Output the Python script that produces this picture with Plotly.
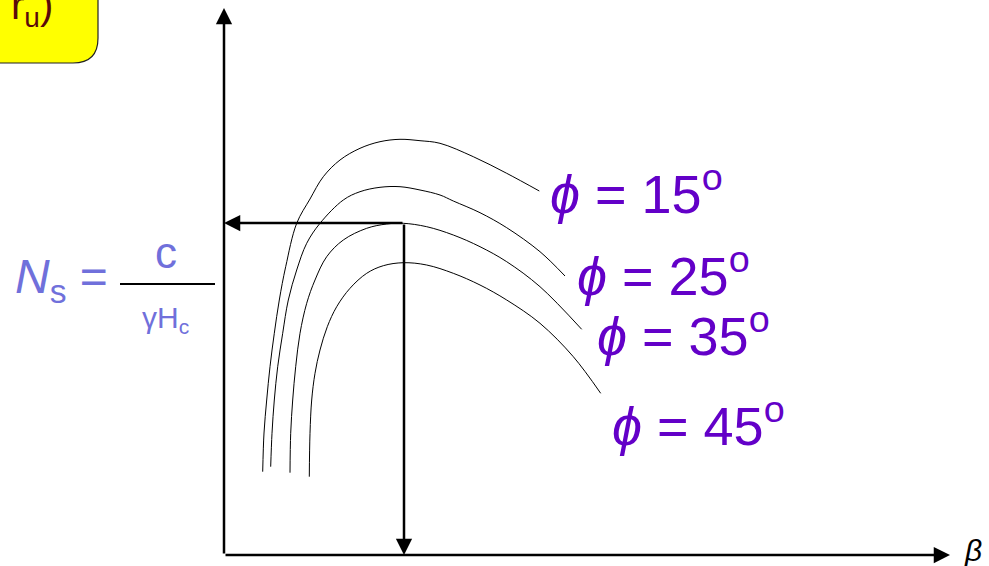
import plotly.graph_objects as go

# Curves: beta (x) vs stability number Ns (y), chart units
beta_15 = [38.7, 40, 42.7, 46, 50.3, 55.3, 61.7, 72.7, 86, 99.3, 116, 136, 156, 176, 196, 216, 249.3, 282.7, 315.3]
ns_15 = [83.3, 122, 155, 188.3, 221.7, 255, 288.3, 331.7, 356, 378.3, 395, 406.7, 413.3, 415.7, 414.3, 411.7, 398.3, 381.7, 364]

beta_25 = [46.7, 48, 50.3, 53.7, 58.7, 64.3, 72.7, 82.7, 96, 119.3, 136, 156, 176, 196, 216, 229.3, 256, 282.7, 316, 341]
ns_25 = [88.3, 121.7, 155, 188.3, 221.7, 255, 285, 311.7, 331.7, 355, 363.3, 367.7, 368.3, 365, 360, 354, 342.3, 327.3, 303.3, 279]

beta_35 = [66, 66.7, 68.7, 71.7, 76, 82.7, 91, 102.7, 119.3, 142.7, 162.7, 179.3, 202.7, 229.3, 256, 282.7, 316, 357.7]
ns_35 = [82.3, 121.7, 155, 188.3, 221.7, 251.7, 275, 298.3, 315, 326.7, 331, 331.7, 328.3, 320, 308.3, 293.3, 268.3, 225.7]

beta_45 = [85.3, 86, 87.7, 91, 96, 103.3, 112.7, 126, 142.7, 159.3, 179.3, 202.7, 229.3, 256, 282.7, 316, 349.3, 376.7]
ns_45 = [78.3, 121.7, 155, 181.7, 205, 228.3, 248.3, 266.7, 281.7, 289.3, 292.3, 290, 281.7, 270, 255, 231.7, 198.3, 161.7]

curve_labels = ["15", "25", "35", "45"]
label_x = [324, 351, 371, 386]
label_y = [365, 283, 223, 133]

# Read-off point
beta_pick = 180
ns_pick = 332

# Axis extents
x_axis_end = 726
y_axis_end = 547

fig = go.Figure()
for bx, ny in [(beta_15, ns_15), (beta_25, ns_25), (beta_35, ns_35), (beta_45, ns_45)]:
    fig.add_trace(go.Scatter(x=bx, y=ny, mode="lines",
                             line=dict(color="black", width=1, shape="spline", smoothing=1.0),
                             showlegend=False, hoverinfo="skip"))

purple = "#6300C8"
for lab, lx, ly in zip(curve_labels, label_x, label_y):
    fig.add_annotation(x=lx, y=ly, xref="x", yref="y", xanchor="left", yanchor="middle",
                       text=f"<i>ϕ</i> = {lab}<sup>o</sup>", showarrow=False,
                       font=dict(family="Liberation Sans, Arial", size=54, color=purple))

def arrow(x0, y0, x1, y1):
    fig.add_annotation(x=x1, y=y1, ax=x0, ay=y0, xref="x", yref="y", axref="x", ayref="y",
                       text="", showarrow=True, arrowhead=2, arrowsize=1.3, arrowwidth=2.5,
                       arrowcolor="black", standoff=0, startstandoff=0)

# axes
arrow(0, 0, 0, y_axis_end)
arrow(0, 0, x_axis_end, 0)
# read-off arrows
arrow(beta_pick, ns_pick, 0, ns_pick)
arrow(beta_pick, ns_pick, beta_pick, 0)

# beta label
fig.add_annotation(x=x_axis_end + 12, y=5, xref="x", yref="y", xanchor="left", yanchor="middle",
                   text="<i>β</i>", showarrow=False,
                   font=dict(family="Liberation Sans, Arial", size=30, color="black"))

# Ns formula
ns_col = "#7070DB"
fig.add_annotation(x=-114, y=275, xref="x", yref="y", xanchor="right", yanchor="middle",
                   text="<i>N</i><sub>s</sub> =", showarrow=False,
                   font=dict(family="Liberation Sans, Arial", size=48, color=ns_col))
fig.add_annotation(x=-58, y=303, xref="x", yref="y", xanchor="center", yanchor="middle",
                   text="c", showarrow=False,
                   font=dict(family="Liberation Sans, Arial", size=44, color=ns_col))
fig.add_annotation(x=-59, y=236, xref="x", yref="y", xanchor="center", yanchor="middle",
                   text="γH<sub>c</sub>", showarrow=False,
                   font=dict(family="Liberation Sans, Arial", size=30, color=ns_col))
fig.add_shape(type="line", x0=-104, x1=-9, y0=271, y1=271, xref="x", yref="y",
              line=dict(color="black", width=2))

# Yellow rounded box (partially off-canvas)
fig.add_shape(type="path", xref="x", yref="y",
              path="M -260 600 L -126 600 L -126 517 Q -126 492 -151 492 L -260 492 Z",
              fillcolor="#FFFF00", line=dict(color="#222222", width=1.2), layer="below")
fig.add_annotation(x=-215, y=547, xref="x", yref="y", xanchor="left", yanchor="middle",
                   text="r<sub>u</sub>)", showarrow=False,
                   font=dict(family="Liberation Sans, Arial", size=40, color="#5A0A0A"))

fig.update_layout(width=989, height=566, margin=dict(l=0, r=0, t=0, b=0),
                  paper_bgcolor="white", plot_bgcolor="white",
                  xaxis=dict(range=[-224, 765], visible=False, fixedrange=True),
                  yaxis=dict(range=[-11, 555], visible=False, fixedrange=True),
                  showlegend=False)
fig.write_html("out.html", config={"displayModeBar": False},
               post_script="document.body.style.margin='0';document.body.style.padding='0';document.body.style.overflow='hidden';")
